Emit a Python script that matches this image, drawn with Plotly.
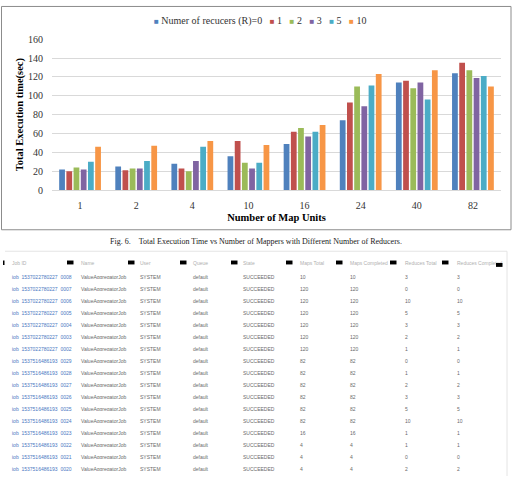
import plotly.graph_objects as go

# ---------------- chart data ----------------
categories = ["1", "2", "4", "10", "16", "24", "40", "82"]
series_names = ["Numer of recucers (R)=0", "1", "2", "3", "5", "10"]
r0 = [22, 25, 28, 36, 49, 74, 114, 124]
r1 = [20, 21, 23, 52, 62, 93, 116, 135]
r2 = [24, 23, 20, 29, 66, 110, 108, 127]
r3 = [22, 23, 31, 23, 57, 89, 114, 119]
r5 = [30, 31, 46, 29, 62, 111, 96, 121]
r10 = [46, 47, 52, 48, 69, 123, 127, 110]
series_values = [r0, r1, r2, r3, r5, r10]
colors = ["#4F81BD", "#C0504D", "#9BBB59", "#8064A2", "#4BACC6", "#F79646"]

caption = "Fig. 6.\u00a0\u00a0\u00a0\u00a0Total Execution Time vs Number of Mappers with Different Number of Reducers."

# ---------------- table data ----------------
table_headers = ["Job ID", "Name", "User", "Queue", "State", "Maps Total",
                 "Maps Completed", "Reduces Total", "Reduces Completed"]
job_ids = ["job_1537022780227_0008", "job_1537022780227_0007", "job_1537022780227_0006",
           "job_1537022780227_0005", "job_1537022780227_0004", "job_1537022780227_0003",
           "job_1537022780227_0002", "job_1537516486193_0029", "job_1537516486193_0028",
           "job_1537516486193_0027", "job_1537516486193_0026", "job_1537516486193_0025",
           "job_1537516486193_0024", "job_1537516486193_0023", "job_1537516486193_0022",
           "job_1537516486193_0021", "job_1537516486193_0020", "job_1537516486193_0019"]
job_name = "ValueAggregatorJob"
job_user = "SYSTEM"
job_queue = "default"
job_state = "SUCCEEDED"
maps_total = [10, 120, 120, 120, 120, 120, 120, 82, 82, 82, 82, 82, 82, 16, 4, 4, 4, 4]
maps_completed = [10, 120, 120, 120, 120, 120, 120, 82, 82, 82, 82, 82, 82, 16, 4, 4, 4, 4]
reduces_total = [3, 0, 10, 5, 3, 2, 1, 0, 1, 2, 3, 5, 10, 1, 1, 0, 2, 3]
reduces_completed = [3, 0, 10, 5, 3, 2, 1, 0, 1, 2, 3, 5, 10, 1, 1, 0, 2, 3]

W, H = 513, 482
def px(x):
    return x / W
def py(y):
    return 1 - y / H

SERIF = "Liberation Serif, Times New Roman, serif"
SANS = "Liberation Sans, Arial, sans-serif"

fig = go.Figure()
for name, vals, c in zip(series_names, series_values, colors):
    fig.add_trace(go.Bar(x=categories, y=vals, name=name, marker_color=c,
                         marker_line_width=0, xaxis="x", yaxis="y"))

n = len(job_ids)
nb = lambda s: s.replace(" ", "\u00a0")
cell_values = [
    job_ids,
    [job_name] * n, [job_user] * n, [job_queue] * n, [job_state] * n,
    maps_total, maps_completed, reduces_total, reduces_completed,
]
fig.add_trace(go.Table(
    domain=dict(x=[px(4), px(512)], y=[0, py(254)]),
    columnwidth=[69, 59, 53, 50, 57, 50, 55, 52, 63],
    header=dict(values=[nb(h) for h in table_headers], align="left", height=14,
                fill_color="white", line_color="white",
                font=dict(family=SANS, size=5, color="#b0b0b0")),
    cells=dict(values=cell_values, align="left", height=12,
               fill_color="white", line_color="white",
               font=dict(family=SANS, size=5,
                         color=["#4a78c2"] + ["#6a6a6a"] * 8)),
))

legend_text = "\u00a0\u00a0\u00a0".join(
    "<span style='color:%s;font-size:8px'>■</span> %s" % (c, nm)
    for nm, c in zip(series_names, colors))

shapes = [
    dict(type="rect", xref="paper", yref="paper", x0=px(1.5), y0=py(1.5),
         x1=px(511), y1=py(230), line=dict(color="#8c8c8c", width=1)),
    dict(type="line", xref="paper", yref="paper", x0=px(5), x1=px(507),
         y0=py(252), y1=py(252), line=dict(color="#e4e4e4", width=1)),
    dict(type="line", xref="paper", yref="paper", x0=px(507), x1=px(507),
         y0=py(252), y1=0, line=dict(color="#e4e4e4", width=1)),
    dict(type="rect", xref="paper", yref="paper", x0=px(3), x1=px(4.5),
         y0=py(266), y1=py(261.5), fillcolor="black", line_width=0),
]
for x0, yt in [(67, 261.5), (128, 261.5), (180, 261.5), (231, 261.5), (286, 261.5),
               (336, 261.5), (390, 261.5), (442, 261.5), (496, 264)]:
    shapes.append(dict(type="rect", xref="paper", yref="paper", x0=px(x0), x1=px(x0 + 6.5),
                       y0=py(yt + 4), y1=py(yt), fillcolor="black", line_width=0))

fig.update_layout(
    width=W, height=H, margin=dict(l=0, r=0, t=0, b=0),
    paper_bgcolor="white", plot_bgcolor="white",
    barmode="group", bargap=0.23, bargroupgap=0.2, showlegend=False,
    xaxis=dict(domain=[px(52), px(501)], anchor="y", type="category",
               showgrid=False, showline=True, linecolor="#D9D9D9", ticks="",
               ticklabelstandoff=6,
               tickfont=dict(family=SERIF, size=10, color="#333333"),
               title=dict(text="<b>Number of Map Units</b>", standoff=3,
                          font=dict(family=SERIF, size=10.5, color="black"))),
    yaxis=dict(domain=[py(189.5), py(35)], anchor="x", range=[0, 160], dtick=20,
               showgrid=True, gridcolor="#D9D9D9", gridwidth=1, zeroline=False,
               showline=False, ticks="", ticklabelstandoff=8,
               tickfont=dict(family=SERIF, size=10, color="#333333"),
               title=dict(text="<b>Total Execution time(sec)</b>", standoff=2,
                          font=dict(family=SERIF, size=10.5, color="black"))),
    shapes=shapes,
    annotations=[
        dict(text=legend_text, xref="paper", yref="paper", x=px(260), y=py(16),
             xanchor="center", yanchor="middle", showarrow=False,
             font=dict(family=SERIF, size=10, color="#333333")),
        dict(text=caption, xref="paper", yref="paper", x=px(256), y=py(242),
             xanchor="center", yanchor="middle", showarrow=False,
             font=dict(family=SERIF, size=8, color="#222222")),
    ],
)

fig.write_html("out.html")
